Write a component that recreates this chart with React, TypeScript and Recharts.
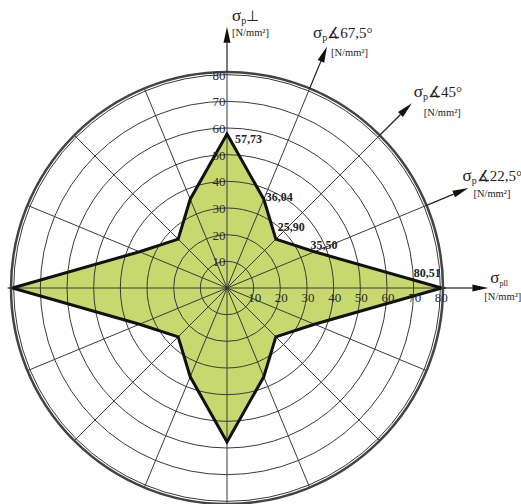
import React from 'react';
import { RadarChart, Radar, PolarGrid, PolarAngleAxis, PolarRadiusAxis } from 'recharts';

// direction of the test piece, degrees from the parallel axis, clockwise from the top
const directions = ['90', '67.5', '45', '22.5', '0', '337.5', '315', '292.5', '270', '247.5', '225', '202.5', '180', '157.5', '135', '112.5'];
// tensile strength, N/mm2
const strength = [57.73, 36.04, 25.9, 35.5, 80.51, 35.5, 25.9, 36.04, 57.73, 36.04, 25.9, 35.5, 80.51, 35.5, 25.9, 36.04];
const valueLabels = ['57,73', '36,04', '25,90', '35,50', '80,51'];
const radiusTicks = [0, 10, 20, 30, 40, 50, 60, 70, 80];
const axisSub = ['p', 'p', 'p', 'p', 'pll'];
const axisSuffix = ['\u22A5', '\u222167,5°', '\u222145°', '\u222122,5°', ''];
const axisUnit = '[N/mm²]';

const rows = directions.map((d, i) => ({ dir: d, value: strength[i] }));

const CX = 227;
const CY = 288;
const R = 216;
const FONT = '"Liberation Serif", "Times New Roman", serif';

// label placement around each arrow tip: [sigma dx, dy, unit dx, dy]
const arrowLabelPos = [
  [5, -6, 5, 9],
  [-14, -9, 4, 9],
  [2, -6, 12, 13],
  [-6, -7, 5, 9],
  [2, -5, -4, 12],
];
// value label placement around each polygon vertex: [dx, dy, anchor]
const valueLabelPos: [number, number, string][] = [
  [8, 9, 'start'],
  [2, 2, 'start'],
  [2, -8, 'start'],
  [-4, -3, 'start'],
  [-1, -11, 'end'],
];

function AngleTick(props: any) {
  const { payload, index } = props;
  if (index > 4) return <g />;
  const cx = props.cx ?? CX;
  const cy = props.cy ?? CY;
  const radius = props.radius ?? R;
  const a = (payload.coordinate * Math.PI) / 180;
  const ux = Math.cos(a);
  const uy = -Math.sin(a);
  const tipR = radius * 1.21;
  const tx = cx + tipR * ux;
  const ty = cy + tipR * uy;
  const bx = tx - 16 * ux;
  const by = ty - 16 * uy;
  const px = -uy * 3.5;
  const py = ux * 3.5;
  const [sx, sy, nx, ny] = arrowLabelPos[index];
  return (
    <g>
      <line x1={cx + radius * ux} y1={cy + radius * uy} x2={bx} y2={by} stroke="#222" strokeWidth={1.2} />
      <polygon points={`${tx},${ty} ${bx + px},${by + py} ${bx - px},${by - py}`} fill="#111" />
      <text x={tx + sx} y={ty + sy} fontFamily={FONT} fontSize={17} fill="#222">
        σ
        <tspan fontSize={index === 4 ? 8 : 10} dy={3}>{axisSub[index]}</tspan>
        <tspan fontSize={15} dy={-3}>{axisSuffix[index]}</tspan>
      </text>
      <text x={tx + nx} y={ty + ny} fontFamily={FONT} fontSize={10.5} fill="#222">
        {axisUnit}
      </text>
    </g>
  );
}

// one radius axis; each tick is labelled on the vertical axis and mirrored onto the horizontal axis
function RadiusTick(props: any) {
  const { x, y, payload } = props;
  if (payload.value === 0) return <g />;
  const cx = typeof props.cx === 'number' ? props.cx : CX;
  const cy = typeof props.cy === 'number' ? props.cy : CY;
  const r = cy - y;
  return (
    <g>
      <text x={x - 8} y={y + 5} textAnchor="middle" fontFamily={FONT} fontSize={13} fill="#2a2a2a">
        {payload.value}
      </text>
      <text x={cx + r + 1} y={cy + 14} textAnchor="middle" fontFamily={FONT} fontSize={13} fill="#2a2a2a">
        {payload.value}
      </text>
    </g>
  );
}

function ValueLabel(props: any) {
  const { cx, cy, index } = props;
  if (index > 4) return <g key={index} />;
  const [dx, dy, anchor] = valueLabelPos[index];
  return (
    <text key={index} x={cx + dx} y={cy + dy} textAnchor={anchor as any} fontFamily={FONT} fontWeight="bold" fontSize={12} fill="#222">
      {valueLabels[index]}
    </text>
  );
}

export default function App() {
  return (
    <div style={{ position: 'absolute', left: 0, top: 0, width: 521, height: 504, background: '#fff', overflow: 'hidden' }}>
      <RadarChart
        width={521}
        height={504}
        data={rows}
        cx={CX}
        cy={CY}
        outerRadius={R}
        margin={{ top: 0, right: 0, bottom: 0, left: 0 }}
      >
        <Radar
          dataKey="value"
          fill="#c7d86e"
          fillOpacity={1}
          stroke="none"
          dot={false}
          isAnimationActive={false}
          zIndex={100}
        />
        <PolarGrid gridType="circle" stroke="#3a3a3a" strokeWidth={1} zIndex={150} />
        <Radar
          dataKey="value"
          fill="none"
          stroke="#111"
          strokeWidth={3}
          strokeLinejoin="miter"
          dot={ValueLabel}
          isAnimationActive={false}
          zIndex={400}
        />
        <PolarAngleAxis
          dataKey="dir"
          tick={AngleTick}
          tickLine={false}
          axisLineType="circle"
          axisLine={{ stroke: '#444', strokeWidth: 2.5 }}
        />
        <PolarRadiusAxis
          angle={90}
          domain={[0, 80]}
          ticks={radiusTicks}
          axisLine={false}
          tickLine={false}
          tick={RadiusTick}
        />
      </RadarChart>
    </div>
  );
}
